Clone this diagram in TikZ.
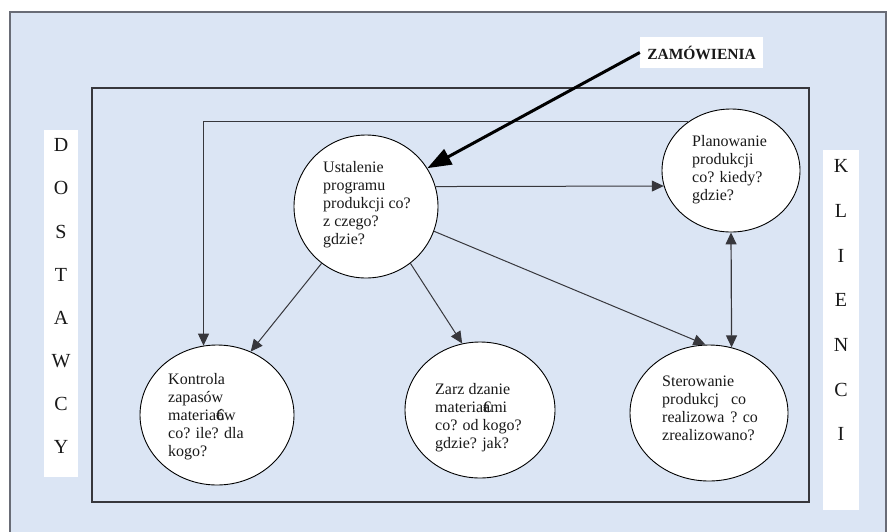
\documentclass[tikz,border=0pt]{standalone}
\usepackage{fontspec}
\setmainfont{Liberation Serif}
\usetikzlibrary{shapes.geometric,arrows.meta}
\definecolor{paneblue}{RGB}{219,229,244}
\definecolor{framegray}{RGB}{105,108,118}
\definecolor{linegray}{RGB}{55,55,60}
\definecolor{inktext}{RGB}{25,25,25}
\begin{document}
\begin{tikzpicture}[x=1pt,y=-1pt,
  bubble/.style={ellipse, draw=black, fill=white, line width=0.9pt, inner sep=0pt},
  bubbletext/.style={anchor=north west, align=left, inner sep=0pt, text=inktext,
    font=\fontsize{16}{18}\selectfont},
  link/.style={draw=linegray, line width=1pt, -{Triangle[length=12pt,width=11pt]}},
  twoway/.style={draw=linegray, line width=1.2pt,
    {Triangle[length=12pt,width=11pt]}-{Triangle[length=12pt,width=11pt]}},
  bigarrow/.style={draw=black, line width=3pt, -{Triangle[length=24pt,width=17pt]}},
  sidebox/.style={fill=white, inner sep=0pt},
  sideletters/.style={anchor=north, align=center, inner sep=0pt, text=inktext}
]
\clip (0,0) rectangle (891,531);
\useasboundingbox (0,0) rectangle (891,531);

% frames
\draw[fill=paneblue, draw=framegray, line width=1.5pt] (10,12) rectangle (886,560);
\draw[fill=paneblue, draw=linegray, line width=1.3pt] (92,88) rectangle (809,502);

% side labels
\node[sidebox, minimum width=34, minimum height=347] (dostbox) at (61,303.5) {};
\node[sideletters, font=\fontsize{20}{43.14}\selectfont] (dost) at (61,138.5)
  {D\\O\\S\\T\\A\\W\\C\\Y};
\node[sidebox, minimum width=36, minimum height=360] (klibox) at (841,330) {};
\node[sideletters, font=\fontsize{20}{44.67}\selectfont] (kli) at (841,159.5)
  {K\\L\\I\\E\\N\\C\\I};

% orders label
\node[fill=white, minimum width=123, minimum height=31, inner sep=0pt, text=inktext,
  font=\fontsize{15.5}{18}\selectfont\bfseries] (zam) at (701.5,52.5) {ZAMÓWIENIA};

% process bubbles
\node[bubble, minimum width=144, minimum height=143] (ust) at (366,206.5) {};
\node[bubble, minimum width=138, minimum height=123] (plan) at (731,170.5) {};
\node[bubble, minimum width=154, minimum height=140] (kon) at (217,415) {};
\node[bubble, minimum width=150, minimum height=136] (zar) at (480,410) {};
\node[bubble, minimum width=158, minimum height=136] (ste) at (709,413) {};

\node[bubbletext] (ustt) at (323,161) {Ustalenie\\programu\\produkcji co?\\z czego?\\gdzie?};
\node[bubbletext] (plant) at (692,135) {Planowanie\\produkcji\\co? kiedy?\\gdzie?};
\node[bubbletext] (kont) at (168,373) {Kontrola\\zapasów\\materia\rlap{€}ów\\co? ile? dla\\kogo?};
\node[bubbletext] (zart) at (435,383) {Zarz\hspace{4pt}dzanie\\materia\rlap{€}ami\\co? od kogo?\\gdzie? jak?};
\node[bubbletext] (stet) at (662,376) {Sterowanie\\produkcj\hspace{12pt}co\\realizowa\hspace{6pt}? co\\zrealizowano?};

% connectors
\draw[link] (plan.131) -| (kon.101);
\draw[link] (ust.16.5) -- (plan.193);
\draw[link] (ust.-20) -- (ste.93);
\draw[link] (ust.232) -- (kon.62);
\draw[link] (ust.-52) -- (zar.105);
\draw[twoway] (plan.south) -- (ste.71);
\draw[bigarrow] (zam.west) -- (ust.32);
\end{tikzpicture}
\end{document}
